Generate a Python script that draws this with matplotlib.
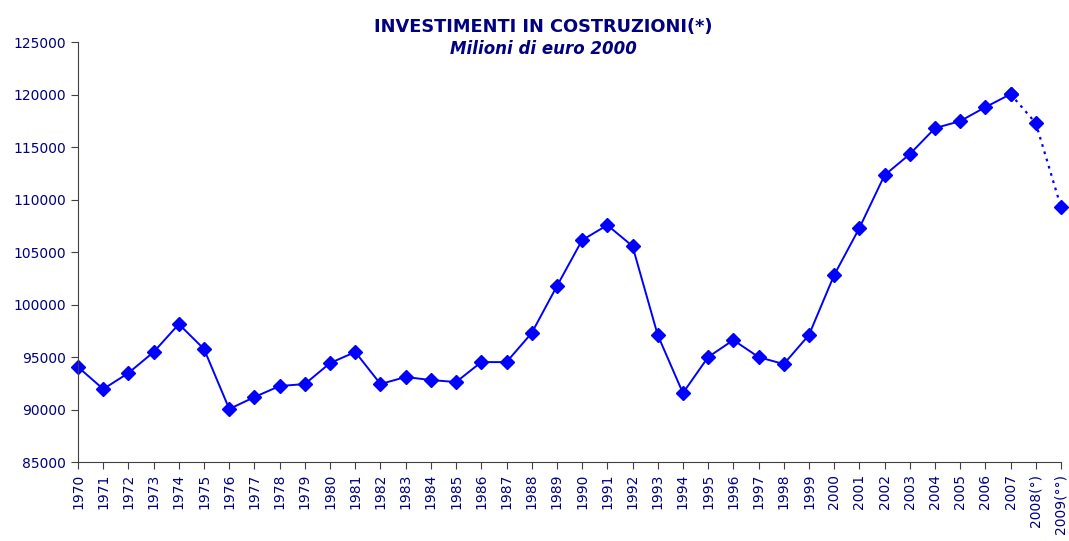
import numpy as np
import matplotlib.pyplot as plt

# valori (milioni di euro 2000)
anni = [str(a) for a in range(1970, 2008)] + ["2008(°)", "2009(°°)"]
valori = [94050, 91950, 93480, 95480, 98140, 95760, 90050, 91190, 92240, 92430,
          94430, 95480, 92430, 93100, 92810, 92620, 94520, 94520, 97290, 101760,
          106140, 107570, 105570, 97100, 91570, 95000, 96620, 95000, 94330, 97100,
          102810, 107290, 112330, 114330, 116810, 117480, 118810, 120050, 117290, 109290]

navy = "#000080"
blu = "#0000FF"

fig = plt.figure(figsize=(10.69, 5.41), dpi=100)
ax = fig.add_axes([0.073, 0.146, 0.9195, 0.776])

x = np.arange(len(anni))
n_cons = 38  # consuntivi fino al 2007
ax.plot(x[:n_cons], valori[:n_cons], color=blu, lw=1.4, marker="D", ms=7, clip_on=False)
ax.plot(x[n_cons - 1:], valori[n_cons - 1:], color=blu, lw=1.6, ls=(0, (1.2, 2.2)),
        marker="D", ms=7, clip_on=False)

ax.set_xlim(0, len(anni) - 1)
ax.set_ylim(85000, 125000)
ax.set_yticks(np.arange(85000, 125001, 5000))
ax.set_xticks(x)
ax.set_xticklabels(anni, rotation=90)

for s in ["top", "right"]:
    ax.spines[s].set_visible(False)
for s in ["left", "bottom"]:
    ax.spines[s].set_color("#404040")
ax.tick_params(colors="#404040", labelcolor=navy, labelsize=10, length=5, direction="out")

fig.text(0.508, 0.95, "INVESTIMENTI IN COSTRUZIONI(*)", ha="center", va="center",
         fontsize=12.8, fontweight="bold", color=navy)
fig.text(0.508, 0.909, "Milioni di euro 2000", ha="center", va="center",
         fontsize=12, fontweight="bold", style="italic", color=navy)

fig.savefig("out.png", dpi=100)
